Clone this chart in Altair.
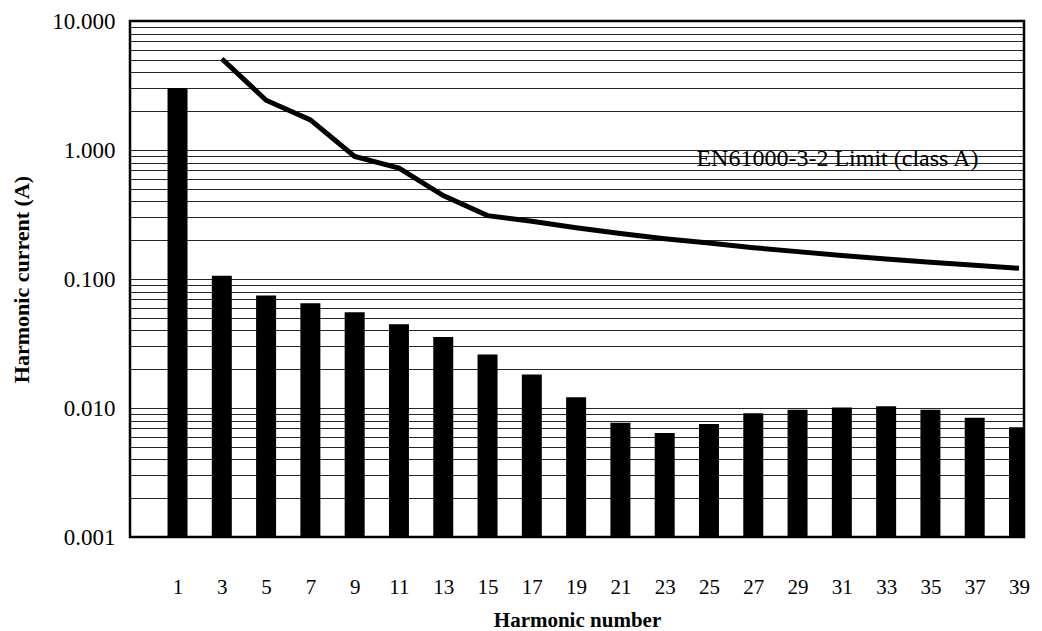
import altair as alt
import pandas as pd

# --- data ---
harmonics = [1, 3, 5, 7, 9, 11, 13, 15, 17, 19, 21, 23, 25, 27, 29, 31, 33, 35, 37, 39]
measured = [3.03, 0.106, 0.0745, 0.065, 0.0553, 0.0445, 0.0355, 0.026, 0.0182, 0.0121,
            0.0077, 0.0064, 0.0075, 0.0091, 0.0097, 0.0101, 0.0103, 0.0097, 0.0084, 0.0071]
limit_harmonics = [3, 5, 7, 9, 11, 13, 15, 17, 19, 21, 23, 25, 27, 29, 31, 33, 35, 37, 39]
limit_values = [5.1, 2.43, 1.71, 0.89, 0.725, 0.443, 0.31, 0.28, 0.25, 0.225, 0.205,
                0.19, 0.175, 0.163, 0.152, 0.143, 0.135, 0.128, 0.121]
grid_values = [0.001, 0.002, 0.003, 0.004, 0.005, 0.006, 0.007, 0.008, 0.009,
               0.01, 0.02, 0.03, 0.04, 0.05, 0.06, 0.07, 0.08, 0.09,
               0.1, 0.2, 0.3, 0.4, 0.5, 0.6, 0.7, 0.8, 0.9,
               1, 2, 3, 4, 5, 6, 7, 8, 9, 10]
x_ticks = harmonics
annotation_text = ["EN61000-3-2 Limit (class A)"]
annotation_x = [30.8]
annotation_y = [0.855]

FONT = "Liberation Serif"

bars_df = pd.DataFrame({"n": harmonics, "current": measured})
limit_df = pd.DataFrame({"n": limit_harmonics, "current": limit_values})
ann_df = pd.DataFrame({"n": annotation_x, "current": annotation_y, "label": annotation_text})

x_scale = alt.Scale(domain=[-0.92, 39.0], nice=False, zero=False)
y_scale = alt.Scale(type="log", domain=[0.001, 10], nice=False)

x_enc = alt.X(
    "n:Q", scale=x_scale,
    axis=alt.Axis(values=x_ticks, title="Harmonic number", grid=False, ticks=False,
                  domain=False, labelPadding=39, titlePadding=12, labelFontSize=21,
                  titleFontSize=21, titleFontWeight="bold", labelFont=FONT, titleFont=FONT,
                  labelColor="black", titleColor="black", labelFlush=False),
)

y_enc = alt.Y(
    "current:Q", scale=y_scale,
    axis=alt.Axis(values=grid_values, title="Harmonic current (A)", grid=True,
                  gridColor="black", gridWidth=1, gridOpacity=0.85, ticks=False, domain=False,
                  labelExpr="abs(log(datum.value)/LN10 - round(log(datum.value)/LN10)) < 0.000001 ? format(datum.value, '.3f') : ''",
                  labelPadding=15, titlePadding=18, labelFontSize=23, titleFontSize=22,
                  titleFontWeight="bold", labelFont=FONT, titleFont=FONT,
                  labelColor="black", titleColor="black", labelFlush=False),
)

bars = alt.Chart(bars_df).mark_bar(color="black", size=20, clip=True).encode(
    x=x_enc,
    y=y_enc,
    y2=alt.datum(0.001),
)

line = alt.Chart(limit_df).mark_line(color="black", strokeWidth=5, clip=True).encode(
    x=alt.X("n:Q", scale=x_scale),
    y=alt.Y("current:Q", scale=y_scale),
)

ann = alt.Chart(ann_df).mark_text(font=FONT, fontSize=24, color="black", align="center",
                                  baseline="middle").encode(
    x=alt.X("n:Q", scale=x_scale),
    y=alt.Y("current:Q", scale=y_scale),
    text="label:N",
)

chart = alt.layer(bars, line, ann).properties(
    width=894,
    height=516,
    autosize=alt.AutoSizeParams(type="none"),
    padding={"left": 122, "top": 13, "right": 10, "bottom": 93},
).configure(background="white").configure_view(stroke="black", strokeWidth=2.5)

chart.save("out.html", embed_options={"renderer": "svg", "actions": False})
